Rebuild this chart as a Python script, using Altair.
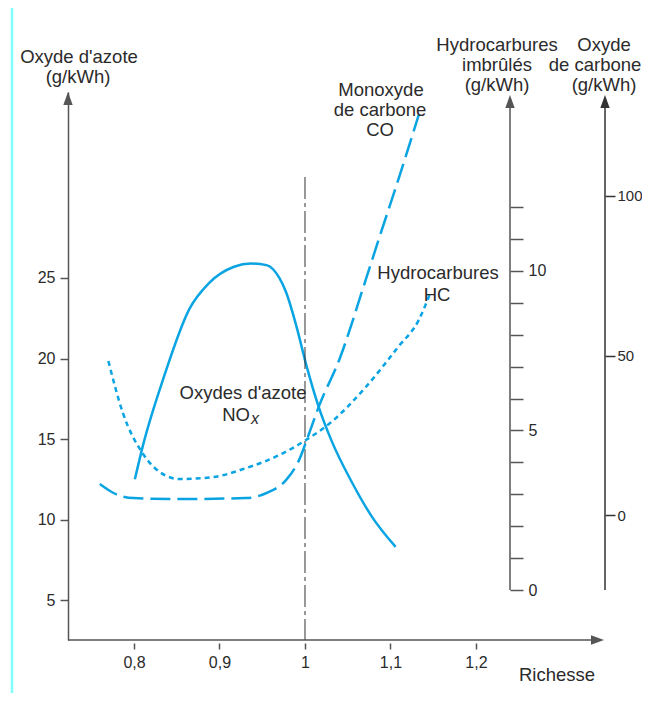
import altair as alt
import pandas as pd

# ---- data ----
# Oxydes d'azote NOx (g/kWh) vs richesse
nox_r = [0.801, 0.810, 0.834, 0.865, 0.888, 0.917, 0.937, 0.955, 0.970, 0.978,
         0.990, 1.001, 1.016, 1.031, 1.055, 1.078, 1.106]
nox_v = [12.5, 14.5, 18.7, 23.1, 24.7, 25.7, 25.9, 25.8, 25.0, 24.1,
         22.0, 19.7, 17.0, 14.9, 12.3, 10.2, 8.3]
# Hydrocarbures imbrulés HC (g/kWh)
hc_r = [0.770, 0.787, 0.810, 0.830, 0.853, 0.892, 0.931, 0.970, 1.001,
        1.031, 1.071, 1.109, 1.133, 1.147]
hc_v = [7.18, 5.55, 4.29, 3.70, 3.48, 3.54, 3.82, 4.23, 4.70,
        5.27, 6.36, 7.62, 8.46, 9.34]
# Monoxyde de carbone CO (g/kWh)
co_r = [0.760, 0.776, 0.799, 0.853, 0.931, 0.955, 0.978, 0.993, 1.005,
        1.016, 1.040, 1.071, 1.086, 1.109, 1.133]
co_v = [9.7, 6.9, 5.3, 5.0, 5.3, 6.9, 11.0, 17.2, 25.7,
        33.9, 48.6, 73.7, 86.2, 105.0, 125.4]
stoich = [1.0]

x_ticks = [0.8, 0.9, 1.0, 1.1, 1.2]
nox_ticks = [5, 10, 15, 20, 25]
hc_ticks = list(range(0, 13))
co_ticks = [0, 50, 100]

W, H = 537, 548
FONT = "Liberation Sans"
TXT = "#2b2b2b"
AX = "#555555"
BLUE = "#0aa4e2"

xs = alt.Scale(domain=[0.7228, 1.3509], nice=False, zero=False)
nox_s = alt.Scale(domain=[2.52, 36.55], nice=False, zero=False)
hc_s = alt.Scale(domain=[-1.567, 15.61], nice=False, zero=False)
co_s = alt.Scale(domain=[-39.18, 132.6], nice=False, zero=False)

one = pd.DataFrame({"k": [0]})

x_axis = alt.Axis(values=x_ticks, labelExpr="replace(toString(datum.value), '.', ',')",
                  domain=False, offset=3, tickSize=6, tickColor=AX, tickWidth=1.5,
                  labelPadding=5, labelFontSize=16, labelColor=TXT, labelFont=FONT,
                  grid=False, title=None)

X = alt.X("r:Q", scale=xs, axis=x_axis)

nox_line = alt.Chart(pd.DataFrame({"r": nox_r, "v": nox_v})).mark_line(
    color=BLUE, strokeWidth=2.5, interpolate="monotone").encode(
    x=X,
    y=alt.Y("v:Q", scale=nox_s, axis=alt.Axis(
        orient="left", values=nox_ticks, domain=True, domainColor=AX, domainWidth=1.5,
        tickSize=8, tickColor=AX, tickWidth=1.5, labelPadding=5, labelFontSize=16,
        labelColor=TXT, labelFont=FONT, grid=False, title=None)))

vline = alt.Chart(pd.DataFrame({"r": stoich})).mark_rule(
    color="#333333", strokeWidth=1, strokeDash=[22, 4, 4, 4]).encode(
    x=X, y=alt.value(85), y2=alt.value(H))

nox_layer = alt.layer(nox_line, vline)

hc_line = alt.Chart(pd.DataFrame({"r": hc_r, "v": hc_v})).mark_line(
    color=BLUE, strokeWidth=2.5, strokeDash=[5, 4], interpolate="monotone").encode(
    x=X,
    y=alt.Y("v:Q", scale=hc_s, axis=alt.Axis(
        orient="right", offset=-95, values=hc_ticks,
        labelExpr="datum.value % 5 == 0 ? datum.label : ''",
        domain=False, tickSize=13, tickColor=AX, tickWidth=1.5, labelPadding=5,
        labelFontSize=16, labelColor=TXT, labelFont=FONT, grid=False, title=None)))

co_line = alt.Chart(pd.DataFrame({"r": co_r, "v": co_v})).mark_line(
    color=BLUE, strokeWidth=2.5, strokeDash=[20, 7], interpolate="monotone").encode(
    x=X,
    y=alt.Y("v:Q", scale=co_s, axis=alt.Axis(
        orient="right", offset=0, values=co_ticks,
        domain=False, tickSize=10, tickColor="#333333", tickWidth=1.5, labelPadding=2,
        labelFontSize=15, labelColor=TXT, labelFont=FONT, grid=False, title=None)))

# ---- axis decorations ----
def rule(x, y, x2=None, y2=None, color=AX, w=1.5):
    enc = dict(x=alt.value(x), y=alt.value(y))
    if x2 is not None:
        enc["x2"] = alt.value(x2)
    if y2 is not None:
        enc["y2"] = alt.value(y2)
    return alt.Chart(one).mark_rule(color=color, strokeWidth=w).encode(**enc)

UP = "M0,0L-0.36,1L0.36,1Z"
RIGHT = "M0,0L-1,-0.36L-1,0.36Z"

def arrow(x, y, shape, color=AX):
    return alt.Chart(one).mark_point(shape=shape, filled=True, size=676, color=color,
                                     opacity=1, strokeWidth=0).encode(
        x=alt.value(x), y=alt.value(y))

def txt(s, x, y, align="center", size=18.5, style="normal", color=TXT):
    return alt.Chart(one).mark_text(text=s, align=align, baseline="middle", fontSize=size,
                                    font=FONT, fontStyle=style, color=color).encode(
        x=alt.value(x), y=alt.value(y))

deco = [
    rule(0, H, x2=528),                 # x axis line
    arrow(536, H, RIGHT),
    arrow(0, 0, UP),
    rule(442, 8, y2=498),               # HC axis line
    arrow(442, 3, UP),
    rule(537, 8, y2=498, color="#333333"),  # CO axis line
    arrow(537, 3, UP, color="#333333"),
    rule(-56, -84, y2=H + 53, color="#80ffff", w=2.5),  # left frame line
    txt("Oxyde d'azote", 11, -35),
    txt("(g/kWh)", 10, -15),
    txt("Hydrocarbures", 429, -47),
    txt("imbrûlés", 429, -27),
    txt("(g/kWh)", 429, -7),
    txt("Oxyde", 536, -47),
    txt("de carbone", 527, -27),
    txt("(g/kWh)", 536, -7),
    txt("Monoxyde", 313, -2),
    txt("de carbone", 312, 18),
    txt("CO", 312, 38),
    txt("Hydrocarbures", 370, 181),
    txt("HC", 369, 203),
    txt("Oxydes d'azote", 175, 301),
    txt("NO", 182, 323, align="right"),
    txt("x", 183, 327, align="left", size=16, style="italic"),
    txt("Richesse", 489, 583),
]

chart = alt.layer(
    alt.layer(nox_layer, hc_line, co_line).resolve_scale(y="independent"),
    *deco
).properties(
    width=W, height=H, background="white",
    padding={"left": 60, "top": 84, "right": 37, "bottom": 53},
    autosize=alt.AutoSizeParams(type="none"),
).configure_view(stroke=None, strokeWidth=0)

chart.save("out.html", embed_options={"renderer": "svg", "actions": False})
